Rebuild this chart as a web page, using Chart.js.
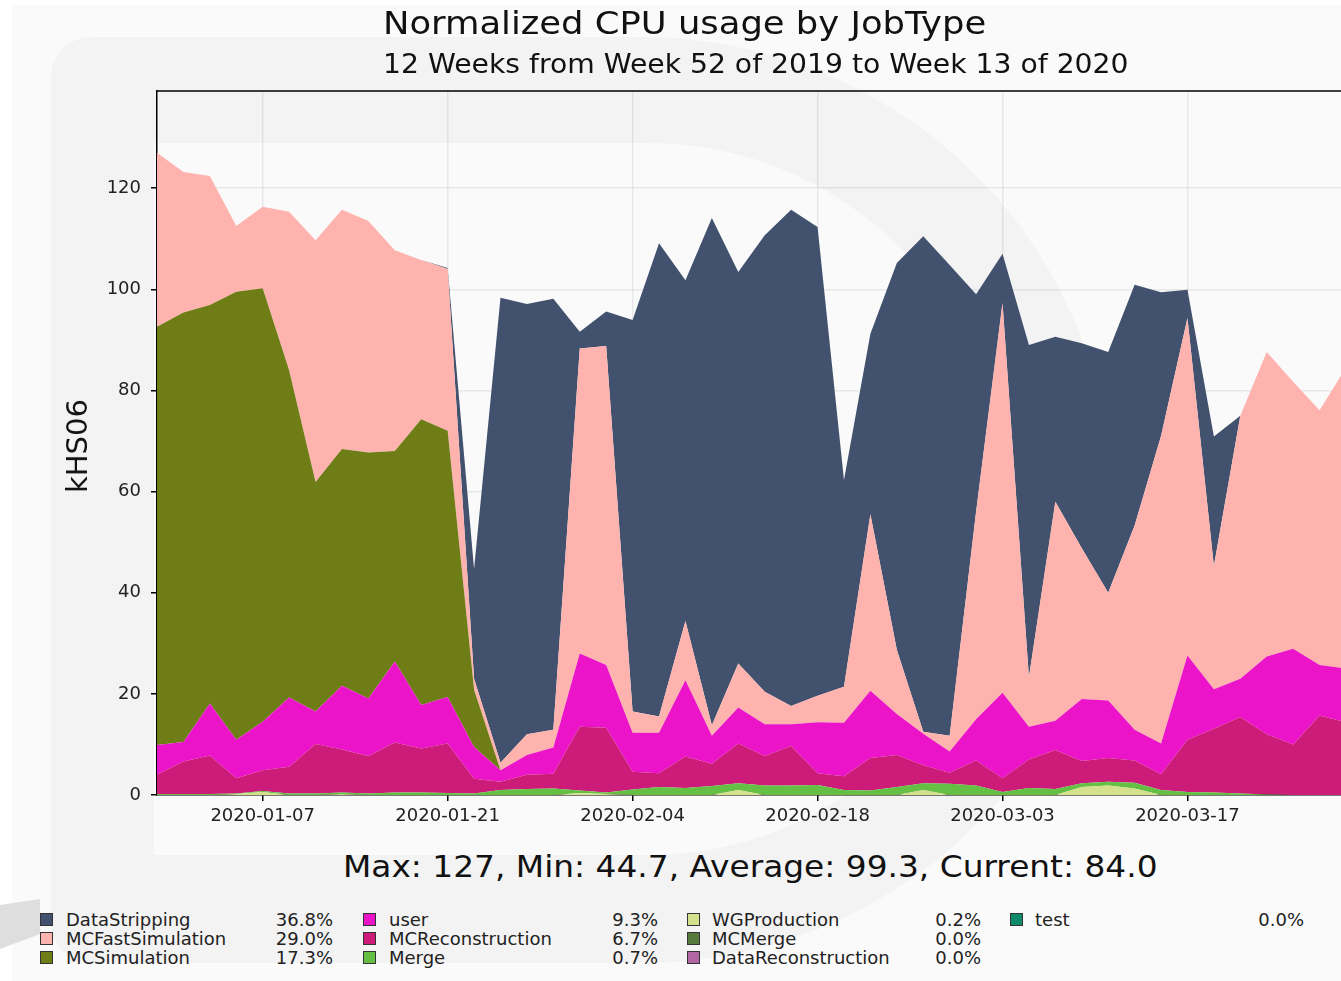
<!DOCTYPE html>
<html>
<head>
<meta charset="utf-8">
<script src="https://cdn.jsdelivr.net/npm/chart.js@4.4.1/dist/chart.umd.min.js"></script>
<style>
  body { margin: 0; width: 1341px; height: 981px; overflow: hidden; background: #fff; position: relative;
         font-family: "DejaVu Sans", sans-serif; color: #111; }
  .abs { position: absolute; white-space: nowrap; }
  #wm0 { left: 12px; top: 5px; width: 1340px; height: 976px; background: #fafafa; }
  #wm1 { left: 51px; top: 37px; width: 1060px; height: 926px; background: #f3f3f3;
         border-radius: 40px 470px 470px 40px / 40px 463px 463px 40px; }
  #wm2 { left: 154px; top: 143px; width: 850px; height: 712px; background: #fafafa;
         border-radius: 0 356px 356px 0 / 0 356px 356px 0; }
  #wedge { left: 0; top: 899px; width: 40px; height: 50px; background: #dedede;
           clip-path: polygon(0 12%, 100% 0, 100% 70%, 0 100%); }
  #box { left: 0; top: 0; width: 1360px; height: 840px; }
  .wide { transform-origin: 0 50%; }
  #title { left: 383px; top: 4px; font-size: 32px; transform: scaleX(1.105); }
  #subtitle { left: 383px; top: 49px; font-size: 26px; transform: scaleX(1.086); }
  #ylab { left: 77px; top: 446px; font-size: 29px; transform: translate(-50%, -50%) rotate(-90deg); }
  #stats { left: 343px; top: 849px; font-size: 30px; transform: scaleX(1.094); }
  .lg { font-size: 18px; line-height: 19px; color: #222; }
  .sw { width: 11px; height: 11px; border: 1px solid #333; }
</style>
</head>
<body>
<div id="wm0" class="abs"></div>
<div id="wm1" class="abs"></div>
<div id="wm2" class="abs"></div>
<div id="wedge" class="abs"></div>
<div id="box" class="abs"><canvas id="cpuChart" width="1360" height="840"></canvas></div>
<div id="title" class="abs wide">Normalized CPU usage by JobType</div>
<div id="subtitle" class="abs wide">12 Weeks from Week 52 of 2019 to Week 13 of 2020</div>
<div id="ylab" class="abs">kHS06</div>
<div id="stats" class="abs wide">Max: 127, Min: 44.7, Average: 99.3, Current: 84.0</div>
<div id="legend"></div>
<script>
// sample dates (every 2 days)
const dates = [
  '2019-12-30','2020-01-01','2020-01-03','2020-01-05','2020-01-07','2020-01-09','2020-01-11','2020-01-13',
  '2020-01-15','2020-01-17','2020-01-19','2020-01-21','2020-01-23','2020-01-25','2020-01-27','2020-01-29',
  '2020-01-31','2020-02-02','2020-02-04','2020-02-06','2020-02-08','2020-02-10','2020-02-12','2020-02-14',
  '2020-02-16','2020-02-18','2020-02-20','2020-02-22','2020-02-24','2020-02-26','2020-02-28','2020-03-01',
  '2020-03-03','2020-03-05','2020-03-07','2020-03-09','2020-03-11','2020-03-13','2020-03-15','2020-03-17',
  '2020-03-19','2020-03-21','2020-03-23','2020-03-25','2020-03-27','2020-03-29'
];
const tickDates = ['2020-01-07', '2020-01-21', '2020-02-04', '2020-02-18', '2020-03-03', '2020-03-17'];
const yTicks = [0, 20, 40, 60, 80, 100, 120];
const axisEnd = '2020-03-29';

// series, kHS06
const dataStripping = [0,0,0,0,0,0,0,0,0,0,0,0.2,21.7,91.9,85.1,85.2,3.3,6.8,77.4,93.6,67.4,100.3,77.4,90.3,98.1,92.7,40.9,35.7,76.5,98.0,93.1,43.0,9.7,65.7,32.6,40.5,47.6,47.6,28.4,5.6,25.6,0,0,0,0,0];
const mcFastSimulation = [34.4,27.8,25.5,13.0,16.1,31.3,47.8,47.3,45.8,39.7,31.5,32.0,2.2,1.5,4.1,3.5,60.3,63.1,4.2,3.2,11.7,2.1,8.7,6.4,3.6,5.2,7.1,34.9,12.7,0.4,3.1,41.0,77.1,9.8,43.3,29.8,21.3,40.4,60.8,66.7,24.4,52.0,60.2,52.8,50.4,59.5];
const mcSimulation = [82.7,84.9,78.8,88.6,85.7,64.7,45.4,46.8,48.6,41.6,56.5,52.6,11.3,0,0,0,0,0,0,0,0,0,0,0,0,0,0,0,0,0,0,0,0,0,0,0,0,0,0,0,0,0,0,0,0,0];
const user = [5.9,3.9,10.3,7.6,9.6,13.7,6.4,12.6,11.4,16.0,8.6,9.2,6.3,2.3,3.9,5.2,14.5,12.4,7.7,8.0,15.1,5.5,7.1,6.3,4.3,10.1,10.6,13.3,8.1,6.2,4.2,8.2,16.9,6.5,5.8,12.3,11.4,6.1,6.1,16.7,7.8,7.6,15.4,18.9,10.0,10.6];
const mcReconstruction = [3.8,6.4,7.6,3.0,4.1,5.3,9.8,8.5,7.4,9.9,8.7,9.8,2.9,1.6,2.8,2.9,12.6,12.8,3.5,2.7,6.2,4.4,7.9,5.8,7.8,2.3,2.7,6.4,6.3,3.6,2.2,4.9,2.7,5.6,7.7,4.4,4.7,4.4,3.1,10.3,12.6,15.1,11.9,10.0,15.7,14.4];
const merge = [0.2,0.2,0.2,0.1,0.2,0.3,0.3,0.3,0.3,0.5,0.5,0.4,0.3,1.0,1.2,1.3,0.5,0.3,1.1,1.6,1.4,1.8,1.3,1.9,1.9,2.0,1.0,0.9,1.6,1.3,2.2,1.9,0.6,1.4,1.2,0.7,0.7,1.1,1.0,0.6,0.5,0.3,0.1,0,0,0];
const wgProduction = [0,0,0,0.2,0.6,0,0,0.2,0,0,0,0,0,0,0,0,0.4,0.2,0,0,0,0,1.0,0,0,0,0,0,0,1.0,0,0,0,0,0,1.6,1.9,1.3,0,0,0,0,0,0,0,0];
const mcMerge = dates.map(() => 0);
const dataReconstruction = dates.map(() => 0);
const test = dates.map(() => 0);

// legend
const legendNames = ['DataStripping', 'MCFastSimulation', 'MCSimulation', 'user', 'MCReconstruction',
                     'Merge', 'WGProduction', 'MCMerge', 'DataReconstruction', 'test'];
const legendPct = ['36.8%', '29.0%', '17.3%', '9.3%', '6.7%', '0.7%', '0.2%', '0.0%', '0.0%', '0.0%'];
const colours = {
  DataStripping: '#42526e', MCFastSimulation: '#ffb3ae', MCSimulation: '#6e7d16', user: '#ec14c9',
  MCReconstruction: '#cd1b79', Merge: '#64bf44', WGProduction: '#d5e08c', MCMerge: '#557a3c',
  DataReconstruction: '#b067a4', test: '#0e8a6b'
};

const dayOf = d => (Date.parse(d) - Date.parse(dates[0])) / 86400000;

// bottom of the stack first
const stack = [
  ['test', test], ['DataReconstruction', dataReconstruction], ['MCMerge', mcMerge],
  ['WGProduction', wgProduction], ['Merge', merge], ['MCReconstruction', mcReconstruction],
  ['user', user], ['MCSimulation', mcSimulation], ['MCFastSimulation', mcFastSimulation],
  ['DataStripping', dataStripping]
];

const frameTop = {
  id: 'frameTop',
  afterDraw(chart) {
    const a = chart.chartArea, ctx = chart.ctx;
    ctx.save();
    ctx.strokeStyle = '#000';
    ctx.lineWidth = 1.5;
    ctx.beginPath();
    ctx.moveTo(a.left, a.top);
    ctx.lineTo(a.right, a.top);
    ctx.stroke();
    ctx.restore();
  }
};

const ctx = document.getElementById('cpuChart').getContext('2d');
const cpuChart = new Chart(ctx, {
  type: 'line',
  data: {
    datasets: stack.map(([name, vals], k) => ({
      label: name,
      data: dates.map((d, i) => ({ x: dayOf(d), y: vals[i] })),
      backgroundColor: colours[name],
      borderWidth: 0,
      pointRadius: 0,
      tension: 0,
      fill: k === 0 ? 'origin' : '-1'
    }))
  },
  options: {
    responsive: false,
    devicePixelRatio: 1,
    animation: false,
    layout: { padding: { left: 97, top: 91, right: 14, bottom: 0 } },
    plugins: { legend: { display: false }, tooltip: { enabled: false } },
    scales: {
      x: {
        type: 'linear',
        min: 0,
        max: dayOf(axisEnd),
        z: 1,
        afterBuildTicks: s => { s.ticks = tickDates.map(d => ({ value: dayOf(d) })); },
        afterFit: s => { s.height = 45; },
        ticks: {
          autoSkip: false, maxRotation: 0, padding: 5, color: '#222',
          font: { family: 'DejaVu Sans', size: 18 },
          callback: v => tickDates.find(d => dayOf(d) === v) || ''
        },
        grid: { color: 'rgba(0,0,0,0.07)', lineWidth: 1.5, tickColor: '#000', tickLength: 6 },
        border: { color: '#000', width: 1.5 }
      },
      y: {
        stacked: true,
        min: 0,
        max: 139.2,
        z: 1,
        afterBuildTicks: s => { s.ticks = yTicks.map(v => ({ value: v })); },
        afterFit: s => { s.width = 60; },
        ticks: { padding: 10, color: '#222', font: { family: 'DejaVu Sans', size: 18 } },
        grid: { color: 'rgba(0,0,0,0.07)', lineWidth: 1.5, tickColor: '#000', tickLength: 6 },
        border: { color: '#000', width: 1.5 }
      }
    }
  },
  plugins: [frameTop]
});

// html legend, 4 columns x 3 rows
const cols = [
  { sw: 40, name: 66, pct: 333 }, { sw: 363, name: 389, pct: 658 },
  { sw: 687, name: 712, pct: 981 }, { sw: 1010, name: 1035, pct: 1304 }
];
const legendBox = document.getElementById('legend');
legendNames.forEach((name, i) => {
  const c = cols[Math.floor(i / 3)], top = 910 + (i % 3) * 19;
  legendBox.insertAdjacentHTML('beforeend',
    `<div class="abs sw" style="left:${c.sw}px;top:${top + 3}px;background:${colours[name]}"></div>` +
    `<div class="abs lg" style="left:${c.name}px;top:${top}px">${name}</div>` +
    `<div class="abs lg" style="left:${c.pct - 80}px;width:80px;text-align:right;top:${top}px">${legendPct[i]}</div>`);
});
</script>
</body>
</html>
